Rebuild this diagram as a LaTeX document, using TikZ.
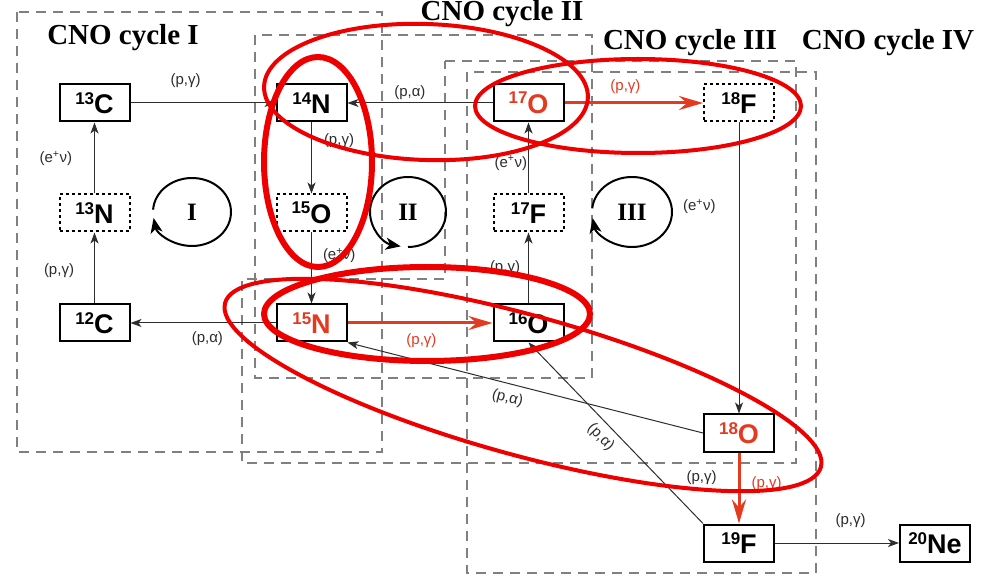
\documentclass[tikz,border=0pt]{standalone}
\usepackage{fontspec}
\setmainfont{Liberation Serif}
\setsansfont{Liberation Sans}
\usetikzlibrary{arrows.meta,positioning,calc}

\definecolor{nucred}{RGB}{228,58,32}
\definecolor{markred}{RGB}{238,0,0}
\definecolor{rxngray}{RGB}{45,45,45}

\newcommand{\nuclide}[2]{\raisebox{9.5pt}{\fontsize{17}{17}\selectfont #1}#2}

\tikzset{
  nuc/.style={draw, line width=2pt, minimum width=70pt, minimum height=37pt,
    inner sep=0pt, font=\sffamily\bfseries\fontsize{27}{30}\selectfont},
  nucdot/.style={nuc, dash pattern=on 3pt off 3pt},
  rxn/.style={draw=rxngray, line width=1pt, -{Stealth[length=11pt,width=8pt,inset=3pt]}},
  hot/.style={draw=nucred, line width=3pt, -{Stealth[length=24pt,width=14pt,inset=8pt]}},
  lab/.style={font=\sffamily\fontsize{15}{15}\selectfont, text=rxngray, inner sep=1pt},
  region/.style={draw=gray, line width=1.2pt, dash pattern=on 10pt off 7pt},
  title/.style={font=\bfseries\fontsize{29}{29}\selectfont, anchor=base, inner sep=0pt},
  cyc/.style={font=\bfseries\fontsize{25}{25}\selectfont},
  turn/.style={line width=2pt, -{Stealth[length=15pt,width=12pt,inset=4pt]}},
  hilite/.style={draw=markred, line width=4pt},
}

\begin{document}
\begin{tikzpicture}[x=1pt, y=-1pt]
  \fill[white] (0,0) rectangle (986,577);
  \useasboundingbox (0,0) rectangle (986,577);

  % cycle regions
  \draw[region] (17,12) rectangle (382,452);
  \draw[region] (255,35) rectangle (592,378);
  \draw[region] (445,61) -- (796,61) -- (796,463) -- (242,463) -- (242,279) -- (445,279) -- cycle;
  \draw[region] (467,72) rectangle (816,573);

  \node[title] (titleI) at (123,45) {CNO cycle I};
  \node[title] (titleII) at (502,21) {CNO cycle II};
  \node[title] (titleIII) at (690,50) {CNO cycle III};
  \node[title] (titleIV) at (888,50) {CNO cycle IV};

  % nuclei
  \node[nuc] (C13) at (94.5,103) {\nuclide{13}{C}};
  \node[nuc] (N14) at (311.5,103) {\nuclide{14}{N}};
  \node[nuc, text=nucred] (O17) at (528.5,103) {\nuclide{17}{O}};
  \node[nucdot] (F18) at (739,103) {\nuclide{18}{F}};
  \node[nucdot] (N13) at (94.5,213) {\nuclide{13}{N}};
  \node[nucdot] (O15) at (311.5,213) {\nuclide{15}{O}};
  \node[nucdot] (F17) at (528.5,213) {\nuclide{17}{F}};
  \node[nuc] (C12) at (94.5,323) {\nuclide{12}{C}};
  \node[nuc, text=nucred] (N15) at (311.5,323) {\nuclide{15}{N}};
  \node[nuc] (O16) at (528.5,323) {\nuclide{16}{O}};
  \node[nuc, text=nucred] (O18) at (739,433) {\nuclide{18}{O}};
  \node[nuc] (F19) at (739,543) {\nuclide{19}{F}};
  \node[nuc] (Ne20) at (935,543) {\nuclide{20}{Ne}};

  % reactions
  \draw[rxn] (C13) -- node[lab, above=14pt, pos=0.38] {(p,γ)} (N14);
  \draw[rxn] (O17) -- node[lab, above=2pt, pos=0.57] {(p,α)} (N14);
  \draw[hot] (O17) -- node[lab, text=nucred, above=7pt, pos=0.44] {(p,γ)} (F18);
  \draw[rxn] (N14) -- node[lab, right=11pt, pos=0.26] {(p,γ)} (O15);
  \draw[rxn] (O15) -- node[lab, right=10pt, pos=0.32] {(e\textsuperscript{+}ν)} (N15);
  \draw[rxn] (N13) -- node[lab, left=21pt, pos=0.49] {(e\textsuperscript{+}ν)} (C13);
  \draw[rxn] (C12) -- node[lab, left=19pt, pos=0.47] {(p,γ)} (N13);
  \draw[rxn] (N15) -- node[lab, below=7pt, pos=0.47] {(p,α)} (C12);
  \draw[hot] (N15) -- node[lab, text=nucred, below=8pt, pos=0.51] {(p,γ)} (O16);
  \draw[rxn] (O16) -- node[lab, left=7pt, pos=0.5] {(p,γ)} (F17);
  \draw[rxn] (F17) -- node[lab, left=0pt, pos=0.43] {(e\textsuperscript{+}ν)} (O17);
  \draw[rxn] (F18) -- node[lab, left=22pt, pos=0.29] {(e\textsuperscript{+}ν)} (O18);
  \draw[rxn] (O18.west) -- node[lab, below=6pt, pos=0.54, sloped] {(p,α)} (N15.south east);
  \draw[rxn] (F19.north west) -- node[lab, below=5pt, pos=0.53, sloped] {(p,α)} (O16.south);
  \draw[hot] (O18) -- node[lab, text=nucred, right=10pt, pos=0.44] {(p,γ)}
    node[lab, left=20pt, pos=0.36] {(p,γ)} (F19);
  \draw[rxn] (F19) -- node[lab, above=14pt, pos=0.61] {(p,γ)} (Ne20);

  % cycle loops
  \node[cyc] (cycI) at (192,212) {I};
  \node[cyc] (cycII) at (408,212) {II};
  \node[cyc] (cycIII) at (632,212) {III};
  \draw[turn] ($(cycI)+(184:39 and 34)$) arc[start angle=184, end angle=530, x radius=39, y radius=34];
  \draw[turn] ($(cycII)+(90:38 and 35)$) arc[start angle=90, end angle=-259, x radius=38, y radius=35];
  \draw[turn] ($(cycIII)+(186:40 and 35)$) arc[start angle=186, end angle=530, x radius=40, y radius=35];

  % highlighted paths
  \draw[hilite, rotate around={-2:(426,92)}] (426,92) ellipse [x radius=162, y radius=68];
  \draw[hilite, line width=6pt] (318,162) ellipse [x radius=54, y radius=105];
  \draw[hilite] (638,106) ellipse [x radius=163, y radius=47];
  \draw[hilite, line width=6pt] (427,314) ellipse [x radius=163, y radius=47];
  \draw[hilite, rotate around={-15.4:(523,385)}] (523,385) ellipse [x radius=309, y radius=70];
\end{tikzpicture}
\end{document}
